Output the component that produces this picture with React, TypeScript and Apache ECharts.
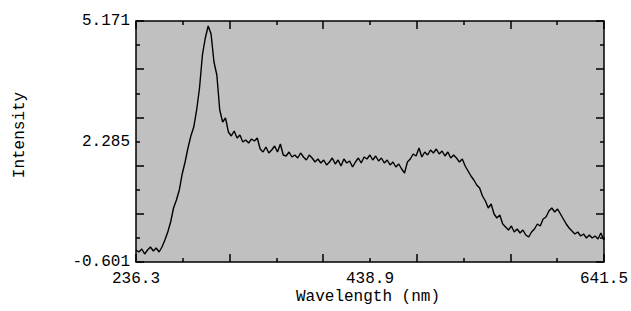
import React, { useEffect, useRef } from "react";
import * as echarts from "echarts";

const wavelengths = [
  236.3, 238.8, 241.3, 243.8, 246.3, 248.8, 251.3, 253.8, 256.3, 258.8,
  261.3, 263.8, 266.3, 268.8, 271.3, 273.8, 276.3, 278.8, 281.3, 283.8,
  286.3, 288.8, 291.3, 293.8, 296.3, 298.8, 301.3, 303.8, 306.3, 308.8,
  311.3, 313.8, 316.3, 318.8, 321.3, 323.8, 326.3, 328.8, 331.3, 333.8,
  336.3, 338.8, 341.3, 343.8, 346.3, 348.8, 351.3, 353.8, 356.3, 358.8,
  361.3, 363.8, 366.3, 368.8, 371.3, 373.8, 376.3, 378.8, 381.3, 383.8,
  386.3, 388.8, 391.3, 393.8, 396.3, 398.8, 401.3, 403.8, 406.3, 408.8,
  411.3, 413.8, 416.3, 418.8, 421.3, 423.8, 426.3, 428.8, 431.3, 433.8,
  436.3, 438.8, 441.3, 443.8, 446.3, 448.8, 451.3, 453.8, 456.3, 458.8,
  461.3, 463.8, 466.3, 468.8, 471.3, 473.8, 476.3, 478.8, 481.3, 483.8,
  486.3, 488.8, 491.3, 493.8, 496.3, 498.8, 501.3, 503.8, 506.3, 508.8,
  511.3, 513.8, 516.3, 518.8, 521.3, 523.8, 526.3, 528.8, 531.3, 533.8,
  536.3, 538.8, 541.3, 543.8, 546.3, 548.8, 551.3, 553.8, 556.3, 558.8,
  561.3, 563.8, 566.3, 568.8, 571.3, 573.8, 576.3, 578.8, 581.3, 583.8,
  586.3, 588.8, 591.3, 593.8, 596.3, 598.8, 601.3, 603.8, 606.3, 608.8,
  611.3, 613.8, 616.3, 618.8, 621.3, 623.8, 626.3, 628.8, 631.3, 633.8,
  636.3, 638.8, 641.3, 641.5,
];

const intensity = [
  -0.314, -0.361, -0.29, -0.409, -0.314, -0.242, -0.338, -0.266, -0.361, -0.242,
  -0.074, 0.118, 0.357, 0.692, 0.884, 1.124, 1.507, 1.794, 2.129, 2.417,
  2.632, 3.04, 3.566, 4.357, 4.764, 5.051, 4.86, 4.189, 3.878, 3.04,
  2.752, 2.848, 2.513, 2.417, 2.537, 2.369, 2.441, 2.273, 2.321, 2.249,
  2.345, 2.297, 2.369, 2.105, 2.034, 2.153, 2.01, 2.082, 2.177, 2.034,
  2.225, 1.962, 1.938, 2.034, 1.914, 1.962, 1.89, 2.01, 1.914, 1.842,
  1.962, 1.89, 1.794, 1.866, 1.77, 1.842, 1.722, 1.794, 1.89, 1.746,
  1.842, 1.698, 1.866, 1.77, 1.818, 1.674, 1.794, 1.89, 1.77, 1.914,
  1.866, 1.962, 1.842, 1.938, 1.818, 1.89, 1.77, 1.842, 1.722, 1.794,
  1.674, 1.746, 1.626, 1.531, 1.794, 1.866, 1.986, 1.938, 2.129, 1.914,
  2.034, 1.962, 2.082, 2.01, 2.105, 1.986, 2.058, 1.938, 2.034, 1.89,
  1.962, 1.89, 1.794, 1.866, 1.698, 1.579, 1.459, 1.363, 1.243, 1.171,
  0.98, 0.86, 0.692, 0.788, 0.549, 0.453, 0.525, 0.309, 0.237, 0.166,
  0.261, 0.118, 0.189, 0.094, 0.166, 0.046, -0.002, 0.118, 0.189, 0.309,
  0.261, 0.429, 0.477, 0.621, 0.692, 0.597, 0.668, 0.549, 0.429, 0.309,
  0.213, 0.142, 0.07, 0.118, 0.022, 0.07, -0.026, 0.046, -0.026, 0.022,
  -0.05, 0.094, -0.074, -0.002,
];

const xMin = 236.3;
const xMax = 641.5;
const yMin = -0.601;
const yMax = 5.171;
const xLabels = [236.3, 438.9, 641.5];
const yLabels = [-0.601, 2.285, 5.171];
const xMajorTicks = [236.3, 317.34, 398.38, 479.42, 560.46, 641.5];
const xMinorTicks = [276.82, 357.86, 438.9, 519.94, 600.98];
const yMajorTicks = [-0.601, 0.5534, 1.7078, 2.8622, 4.0166, 5.171];
const yMinorTicks = [-0.0238, 1.1306, 2.285, 3.4394, 4.5938];

const FONT = "'Liberation Mono', 'DejaVu Sans Mono', monospace";

function makeX(position: string, ticks: number[], len: number, labels: boolean) {
  return {
    type: "value",
    position,
    min: xMin,
    max: xMax,
    axisLine: { show: false, onZero: false },
    splitLine: { show: false },
    axisTick: {
      show: true,
      inside: true,
      length: len,
      customValues: ticks,
      lineStyle: { color: "#000", width: 1.5 },
    },
    axisLabel: labels
      ? {
          show: true,
          customValues: xLabels,
          formatter: (v: number) => v.toFixed(1),
          color: "#000",
          fontFamily: FONT,
          fontSize: 16,
          margin: 9,
        }
      : { show: false },
  };
}

function makeY(position: string, ticks: number[], len: number, labels: boolean) {
  return {
    type: "value",
    position,
    min: yMin,
    max: yMax,
    axisLine: { show: false, onZero: false },
    splitLine: { show: false },
    axisTick: {
      show: true,
      inside: true,
      length: len,
      customValues: ticks,
      lineStyle: { color: "#000", width: 1.5 },
    },
    axisLabel: labels
      ? {
          show: true,
          customValues: yLabels,
          formatter: (v: number) => v.toFixed(3),
          color: "#000",
          fontFamily: FONT,
          fontSize: 16,
          margin: 6,
        }
      : { show: false },
  };
}

export default function App() {
  const ref = useRef<HTMLDivElement>(null);
  useEffect(() => {
    if (!ref.current) return;
    const chart = echarts.init(ref.current, null, { renderer: "svg" });
    chart.setOption({
      animation: false,
      backgroundColor: "#fff",
      grid: {
        left: 136,
        top: 21,
        width: 468,
        height: 241,
        show: true,
        backgroundColor: "#c0c0c0",
        borderColor: "#000",
        borderWidth: 1.5,
      },
      xAxis: [
        makeX("bottom", xMajorTicks, 8, true),
        makeX("bottom", xMinorTicks, 4, false),
        makeX("top", xMajorTicks, 8, false),
        makeX("top", xMinorTicks, 4, false),
      ],
      yAxis: [
        makeY("left", yMajorTicks, 8, true),
        makeY("left", yMinorTicks, 4, false),
        makeY("right", yMajorTicks, 8, false),
        makeY("right", yMinorTicks, 4, false),
      ],
      graphic: [
        {
          type: "text",
          x: 368,
          y: 297,
          style: {
            text: "Wavelength (nm)",
            fontFamily: FONT,
            fontSize: 16,
            fill: "#000",
            align: "center",
            verticalAlign: "middle",
          },
        },
        {
          type: "text",
          x: 20,
          y: 135,
          rotation: Math.PI / 2,
          style: {
            text: "Intensity",
            fontFamily: FONT,
            fontSize: 16,
            fill: "#000",
            align: "center",
            verticalAlign: "middle",
          },
        },
      ],
      series: [
        {
          type: "line",
          xAxisIndex: 0,
          yAxisIndex: 0,
          showSymbol: false,
          symbol: "none",
          lineStyle: { color: "#000", width: 1.4 },
          data: wavelengths.map((w, i) => [w, intensity[i]]),
        },
      ],
    });
    return () => chart.dispose();
  }, []);
  return (
    <div
      ref={ref}
      style={{ position: "absolute", left: 0, top: 0, width: 631, height: 311 }}
    />
  );
}
